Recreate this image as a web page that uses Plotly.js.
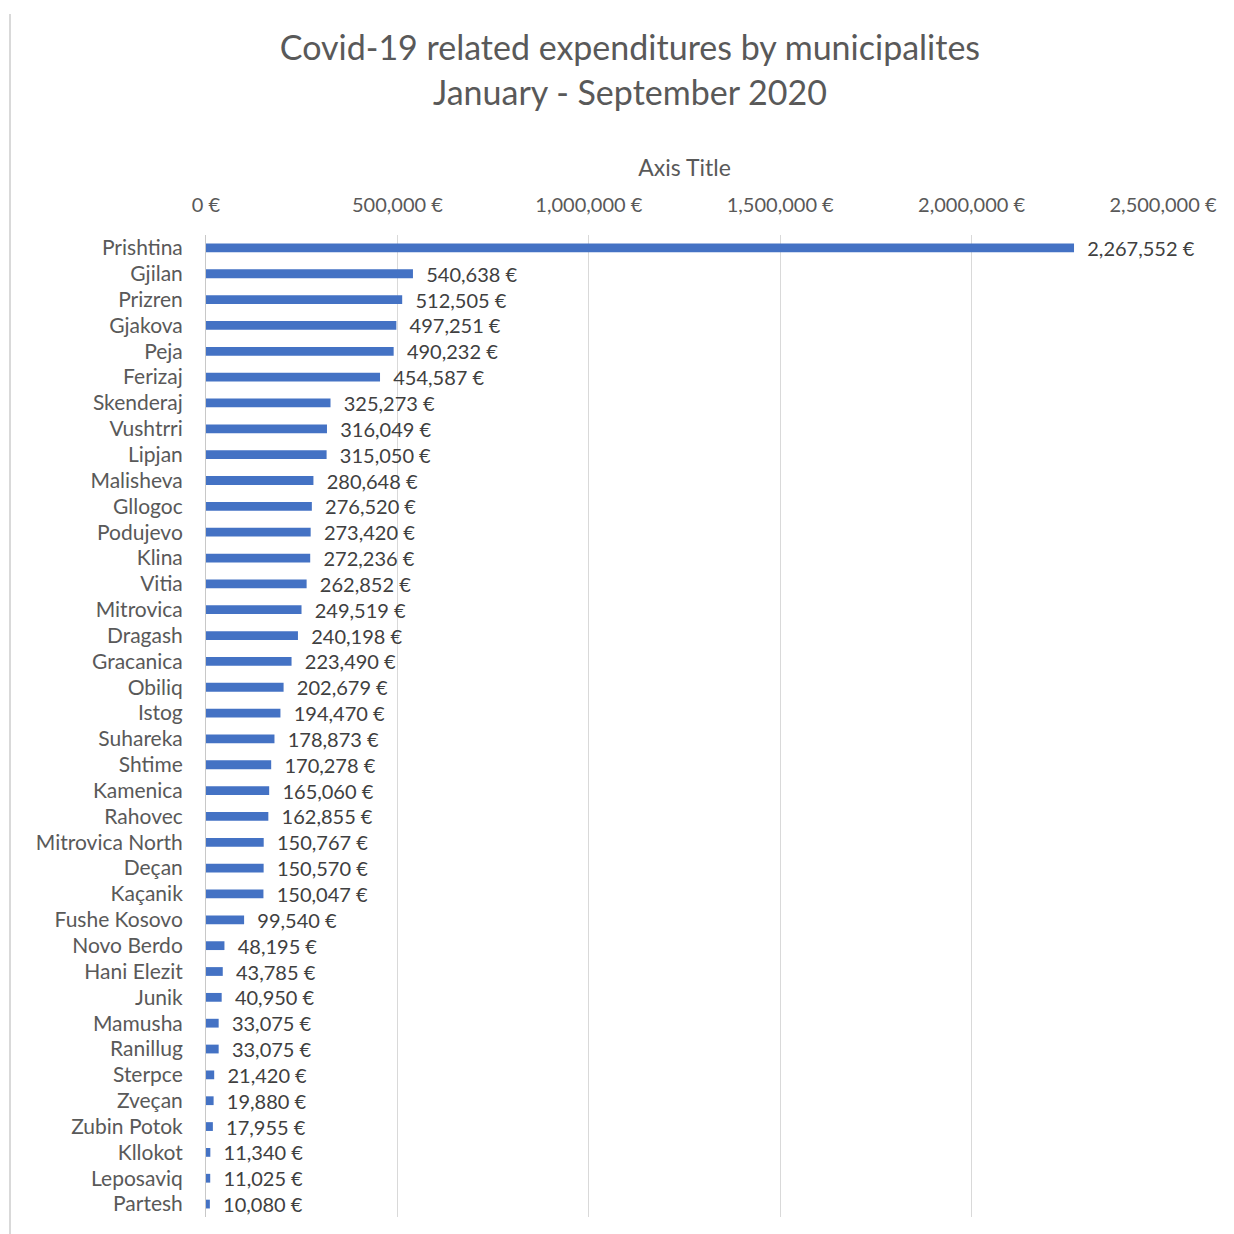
<!DOCTYPE html>
<html>
<head>
<meta charset="utf-8">
<script src="https://cdn.plot.ly/plotly-3.0.1.min.js"></script>
<style>html,body{margin:0;padding:0;background:#fff}#chart{width:1234px;height:1234px}</style>
</head>
<body>
<div id="chart"></div>
<script>
const municipalities = ["Prishtina","Gjilan","Prizren","Gjakova","Peja","Ferizaj","Skenderaj","Vushtrri","Lipjan","Malisheva","Gllogoc","Podujevo","Klina","Vitia","Mitrovica","Dragash","Gracanica","Obiliq","Istog","Suhareka","Shtime","Kamenica","Rahovec","Mitrovica North","Deçan","Kaçanik","Fushe Kosovo","Novo Berdo","Hani Elezit","Junik","Mamusha","Ranillug","Sterpce","Zveçan","Zubin Potok","Kllokot","Leposaviq","Partesh"];
const expenditures = [2267552,540638,512505,497251,490232,454587,325273,316049,315050,280648,276520,273420,272236,262852,249519,240198,223490,202679,194470,178873,170278,165060,162855,150767,150570,150047,99540,48195,43785,40950,33075,33075,21420,19880,17955,11340,11025,10080];
const xTicks = [0,500000,1000000,1500000,2000000,2500000];
const xTickLabels = ["0 €","500,000 €","1,000,000 €","1,500,000 €","2,000,000 €","2,500,000 €"];
const chartTitle = "Covid-19 related expenditures by municipalites<br>January - September 2020";
const axisTitle = "Axis Title";

const font = "Lato, 'Open Sans', sans-serif";
const trace = {
  type: 'bar',
  orientation: 'h',
  y: municipalities,
  x: expenditures,
  marker: {color: '#4472C4'},
  texttemplate: '\u00a0\u00a0%{x:,} €',
  textposition: 'outside',
  constraintext: 'none',
  cliponaxis: false,
  textfont: {family: font, size: 20, color: '#404040'},
  hoverinfo: 'none'
};
const layout = {
  width: 1234, height: 1234,
  paper_bgcolor: '#fff', plot_bgcolor: '#fff',
  margin: {l: 206, r: 71, t: 235, b: 17},
  showlegend: false,
  bargap: 0.66,
  title: {text: chartTitle, x: 0.5105, xanchor: 'center', yref: 'container', y: 0.951, yanchor: 'middle',
          font: {family: font, size: 34, color: '#595959'}},
  xaxis: {
    side: 'top', range: [0, 2500000], tickmode: 'array', tickvals: xTicks, ticktext: xTickLabels,
    showgrid: true, gridcolor: '#d9d9d9', gridwidth: 1,
    zeroline: false, showline: false, ticks: '', ticklabelstandoff: 18,
    tickfont: {family: font, size: 20, color: '#595959'},
    title: {text: axisTitle, standoff: 8, font: {family: font, size: 23, color: '#595959'}}
  },
  yaxis: {
    autorange: 'reversed', type: 'category',
    showline: true, linecolor: '#c8c8c8', linewidth: 1,
    ticks: '', ticklabelstandoff: 18,
    tickfont: {family: font, size: 21, color: '#595959'},
    automargin: false
  },
  shapes: [{type: 'line', xref: 'paper', yref: 'paper', x0: -0.2048, x1: -0.2048, y0: 1.225, y1: -0.02,
            line: {color: '#d9d9d9', width: 2}}]
};
Plotly.newPlot('chart', [trace], layout, {displayModeBar: false, staticPlot: true});
</script>
</body>
</html>
